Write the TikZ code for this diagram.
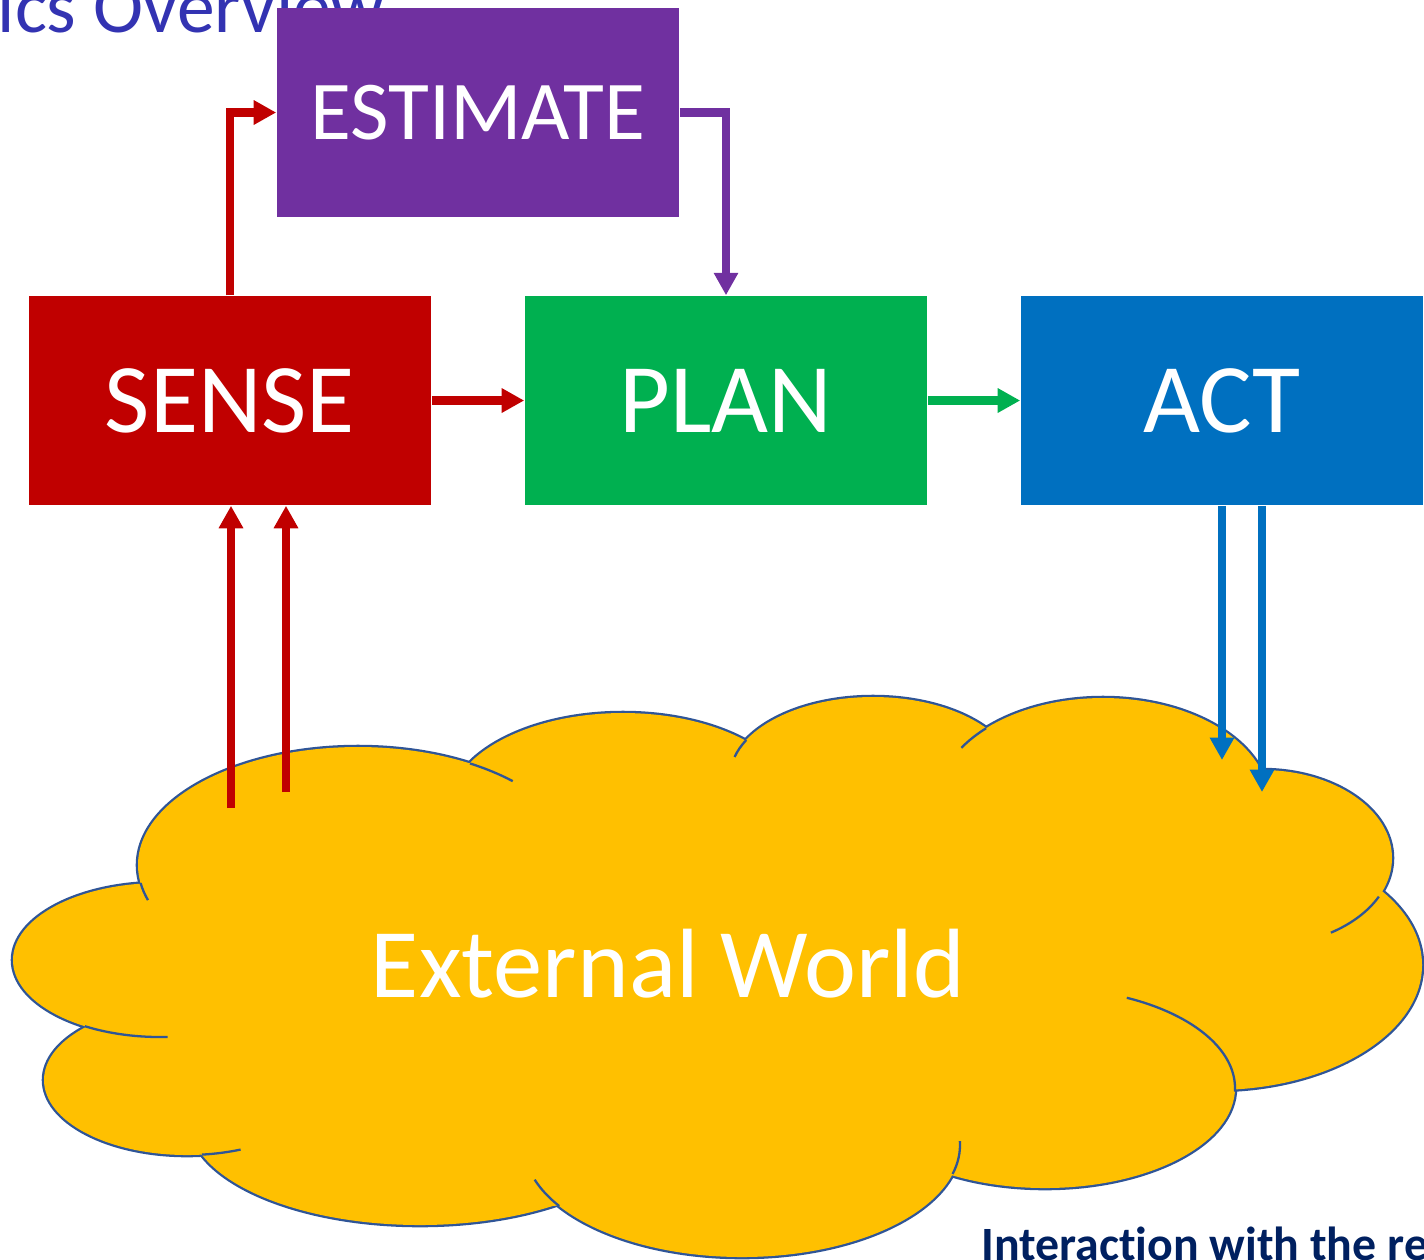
\documentclass[tikz,border=0pt]{standalone}
\usepackage{fontspec}
\setmainfont{Carlito}[Ligatures={TeX,NoCommon}]
\usetikzlibrary{arrows.meta}

\definecolor{sensered}{HTML}{C00000}
\definecolor{estpurple}{HTML}{7030A0}
\definecolor{plangreen}{HTML}{00B050}
\definecolor{actblue}{HTML}{0070C0}
\definecolor{worldyellow}{HTML}{FFC000}
\definecolor{worldline}{HTML}{2F5597}
\definecolor{titleblue}{HTML}{3333B2}
\definecolor{notenavy}{HTML}{002060}

\begin{document}
\begin{tikzpicture}[x=0.01cm,y=-0.01cm,
    box/.style={minimum width=4.02cm,minimum height=2.09cm,inner sep=0pt,text=white,font=\fontsize{28}{32}\selectfont},
    flow/.style={line width=2.3pt,-{Triangle[length=6.4pt,width=6.6pt]}},
    puffline/.style={draw=worldline,line width=0.65pt}]

  \useasboundingbox (0,0) rectangle (1424,1259);
  \clip (0,0) rectangle (1424,1259);

  % slide title, cut off and partly under the estimate block
  \node (title) at (-3,32) [anchor=base west,inner sep=0pt,text=titleblue,font=\fontsize{21.5}{24}\selectfont] {ics Overview};

  \node (estimate) at (478,112.5) [box,fill=estpurple,font=\fontsize{23.8}{28}\selectfont] {ESTIMATE};
  \node (sense) at (230,400.5) [box,fill=sensered] {SENSE};
  \node (plan) at (726,400.5) [box,fill=plangreen] {PLAN};
  \node (act) at (1222,400.5) [box,fill=actblue] {ACT};

  % the world cloud: outline of all puffs, then fill over the inside
  \foreach \cx/\cy/\rx/\ry in {358/865/220/118, 623/808/174/95, 873/777/143/80, 1103/803/166.5/105,
      1262/858/130/88, 1215/965/207/125, 1045/1088/190/100, 742/1145/218/112,
      420/1120/231/105, 187/1080/143/75, 160/960/147/77}
    \draw [puffline,line width=1.3pt] (\cx,\cy) ellipse [x radius=\rx,y radius=\ry];
  \foreach \cx/\cy/\rx/\ry in {358/865/220/118, 623/808/174/95, 873/777/143/80, 1103/803/166.5/105,
      1262/858/130/88, 1215/965/207/125, 1045/1088/190/100, 742/1145/218/112,
      420/1120/231/105, 187/1080/143/75, 160/960/147/77}
    \fill [worldyellow] (\cx,\cy) ellipse [x radius=\rx,y radius=\ry];
  \fill [worldyellow] (141,883) -- (470,763) -- (745,740) -- (986,728) -- (1260,768) -- (1377,896)
    -- (1233,1087) -- (945,1174) -- (552,1206) -- (203,1156) -- (85,1027) -- cycle;
  % little inner arcs where the puffs meet
  \foreach \cx/\cy/\rx/\ry/\sa/\ea in {358/865/220/118/171.2/162.7, 358/865/220/118/-59.4/-45.3,
      873/777/143/80/207.6/194.5, 1103/803/166.5/105/225.4/211.7, 1262/858/130/88/26/58,
      1045/1088/190/100/2/-64.5, 742/1145/218/112/15/-2, 742/1145/218/112/147/162,
      187/1080/143/75/84/68, 160/960/147/77/120.7/87}
    \draw [puffline] ({\cx+\rx*cos(\sa)},{\cy+\ry*sin(\sa)}) arc [start angle=\sa,end angle=\ea,x radius=\rx,y radius=\ry];

  \node (world) at (668,997) [anchor=base,inner sep=0pt,text=white,font=\fontsize{28}{32}\selectfont] {External World};

  % sense -> estimate -> plan -> act
  \draw [flow,sensered] (sense.north) |- (estimate.west);
  \draw [flow,estpurple] (estimate.east) -| (plan.north);
  \draw [flow,sensered] (sense.east) -- (plan.west);
  \draw [flow,plangreen] (plan.east) -- (act.west);

  % readings coming in from the world, commands going out
  \coordinate (in1) at (231,808);
  \coordinate (in2) at (286,792);
  \coordinate (out1) at (1222,760);
  \coordinate (out2) at (1262,792);
  \draw [flow,sensered] (in1) -- (in1 |- sense.south);
  \draw [flow,sensered] (in2) -- (in2 |- sense.south);
  \draw [flow,actblue] (out1 |- act.south) -- (out1);
  \draw [flow,actblue] (out2 |- act.south) -- (out2);

  \node (note) at (981,1260) [anchor=base west,inner sep=0pt,text=notenavy,font=\bfseries\fontsize{13.6}{16}\selectfont] {Interaction with the re};
\end{tikzpicture}
\end{document}
